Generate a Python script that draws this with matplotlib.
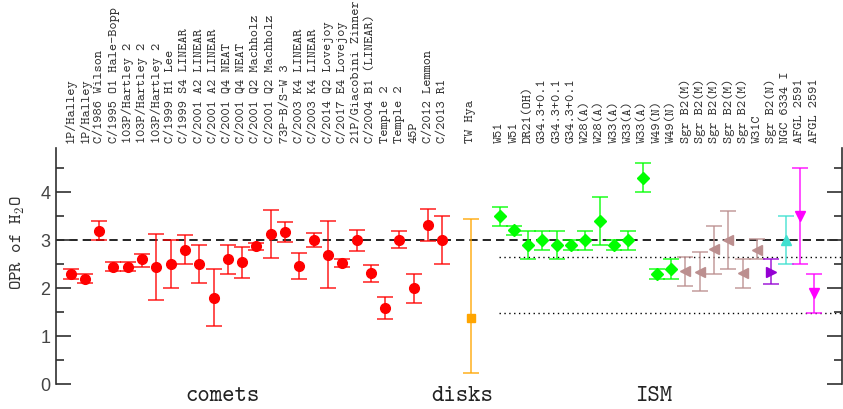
import numpy as np
import matplotlib
matplotlib.use("Agg")
import matplotlib.pyplot as plt

# comets
comet_names = ["1P/Halley", "1P/Halley", "C/1986 Wilson", "C/1995 O1 Hale-Bopp",
               "103P/Hartley 2", "103P/Hartley 2", "103P/Hartley 2", "C/1999 H1 Lee",
               "C/1999 S4 LINEAR", "C/2001 A2 LINEAR", "C/2001 A2 LINEAR", "C/2001 Q4 NEAT",
               "C/2001 Q4 NEAT", "C/2001 Q2 Machholz", "C/2001 Q2 Machholz", "73P-B/S-W 3",
               "C/2003 K4 LINEAR", "C/2003 K4 LINEAR", "C/2014 Q2 Lovejoy", "C/2017 E4 Lovejoy",
               "21P/Giacobini Zinner", "C/2004 B1 (LINEAR)", "Temple 2", "Temple 2", "45P",
               "C/2012 Lemmon", "C/2013 R1"]
comet_opr = [2.3, 2.2, 3.2, 2.45, 2.45, 2.6, 2.43, 2.5, 2.8, 2.5, 1.8, 2.6, 2.54, 2.87,
             3.13, 3.17, 2.47, 3.0, 2.7, 2.52, 3.0, 2.31, 1.59, 3.01, 2.0, 3.31, 3.01]
comet_lo = [2.2, 2.1, 3.0, 2.35, 2.35, 2.45, 1.75, 2.0, 2.5, 2.1, 1.2, 2.3, 2.22, 2.80,
            2.63, 2.97, 2.2, 2.85, 2.0, 2.43, 2.77, 2.12, 1.35, 2.83, 1.69, 2.99, 2.51]
comet_hi = [2.4, 2.3, 3.4, 2.55, 2.55, 2.72, 3.13, 3.0, 3.1, 2.9, 2.4, 2.9, 2.86, 2.94,
            3.63, 3.37, 2.74, 3.15, 3.4, 2.61, 3.22, 2.49, 1.82, 3.19, 2.29, 3.64, 3.5]

# disks
disk_names = ["TW Hya"]
disk_opr = [1.37]
disk_lo = [0.22]
disk_hi = [3.45]

# ISM
ism_names = ["W51", "W51", "DR21(OH)", "G34.3+0.1", "G34.3+0.1", "G34.3+0.1", "W28(A)",
             "W28(A)", "W33(A)", "W33(A)", "W33(A)", "W49(N)", "W49(N)",
             "Sgr B2(M)", "Sgr B2(M)", "Sgr B2(M)", "Sgr B2(M)", "Sgr B2(M)", "W31C",
             "Sgr B2(N)", "NGC 6334 I", "AFGL 2591", "AFGL 2591"]
ism_opr = [3.51, 3.21, 2.9, 3.0, 2.9, 2.9, 3.01, 3.4, 2.9, 3.0, 4.3, 2.3, 2.4,
           2.35, 2.34, 2.81, 3.01, 2.31, 2.8, 2.34, 3.01, 3.5, 1.89]
ism_lo = [3.3, 3.11, 2.6, 2.8, 2.6, 2.8, 2.8, 2.9, 2.8, 2.8, 4.0, 2.2, 2.2,
          2.05, 1.94, 2.3, 2.4, 2.0, 2.6, 2.09, 2.5, 2.5, 1.49]
ism_hi = [3.69, 3.3, 3.2, 3.2, 3.2, 3.0, 3.2, 3.9, 3.0, 3.2, 4.61, 2.4, 2.6,
          2.65, 2.75, 3.3, 3.6, 2.6, 3.02, 2.6, 3.5, 4.5, 2.29]
ism_style = ["D"] * 13 + ["<"] * 6 + [">", "^", "v", "v"]
ism_color = ["lime"] * 13 + ["rosybrown"] * 6 + ["darkviolet", "turquoise", "magenta", "magenta"]

dotted_levels = [2.64, 1.48]

mono = ["cmtt10", "Liberation Mono"]
plt.rcParams["mathtext.fontset"] = "cm"

comet_x = np.arange(len(comet_names))
disk_x = np.arange(len(disk_names)) + len(comet_names) + 1
ism_x = np.arange(len(ism_names)) + disk_x[-1] + 2


def draw(ax, x, y, lo, hi, marker, color, ms):
    y = np.array(y)
    err = [y - np.array(lo), np.array(hi) - y]
    ax.errorbar(x, y, yerr=err, fmt="none", ecolor=color, alpha=0.75,
                elinewidth=1.3, capsize=6, capthick=1.3, zorder=2)
    ax.plot(x, y, marker, color=color, ms=ms, zorder=3)


fig = plt.figure(figsize=(8.43, 4.09), dpi=100)
ax = fig.add_axes([0.0664, 0.061, 0.9326, 0.577])

draw(ax, comet_x, comet_opr, comet_lo, comet_hi, "o", "red", 7)
draw(ax, disk_x, disk_opr, disk_lo, disk_hi, "s", "orange", 6)
for i in range(len(ism_names)):
    draw(ax, [ism_x[i]], [ism_opr[i]], [ism_lo[i]], [ism_hi[i]],
         ism_style[i], ism_color[i], 6.5 if ism_style[i] == "D" else 7)

ax.axhline(3.0, color="black", ls=(0, (5, 3)), lw=1.2, zorder=1)
for lev in dotted_levels:
    ax.hlines(lev, ism_x[0] - 0.05, 60, color="black", ls=(0, (1, 2.5)), lw=1.0, zorder=1)

ax.set_xlim(-1.02, 53.96)
ax.set_ylim(0, 4.92)

# spines: left and right only
ax.spines["top"].set_visible(False)
ax.spines["bottom"].set_visible(False)
for s in ["left", "right"]:
    ax.spines[s].set_linewidth(1.2)
    ax.spines[s].set_color("#303030")

ax.set_yticks([0, 1, 2, 3, 4])
ax.set_yticks(np.arange(0.5, 4.9, 1.0), minor=True)
ax.tick_params(axis="y", which="both", direction="in", left=True, right=True,
               color="#303030", width=1.2, labelsize=13, pad=4)
ax.tick_params(axis="y", which="major", length=11)
ax.tick_params(axis="y", which="minor", length=6)
for lab in ax.get_yticklabels():
    lab.set_family("Liberation Sans")
    lab.set_color("#444444")

all_x = np.concatenate([comet_x, disk_x, ism_x])
all_names = comet_names + disk_names + ism_names
ax.set_xticks(all_x)
ax.set_xticklabels(all_names, rotation=90, family=mono, fontsize=9.8, color="#333333")
ax.tick_params(axis="x", bottom=False, top=False, labelbottom=False, labeltop=True,
               length=0, pad=4)
for lab in ax.get_xticklabels()[len(comet_names):]:
    lab.set_style("italic")

ax.set_ylabel(r"OPR of H$_\mathtt{2}$O", family=mono, fontsize=13, color="#333333")
ax.yaxis.set_label_coords(-0.037, 0.6)

for label, xpos in [("comets", 10.66), ("disks", 27.4), ("ISM", 40.8)]:
    ax.text(xpos, -0.072, label, transform=ax.get_xaxis_transform(), ha="center",
            va="baseline", family=mono, fontsize=17, color="#222222")

fig.savefig("out.png", dpi=100)
